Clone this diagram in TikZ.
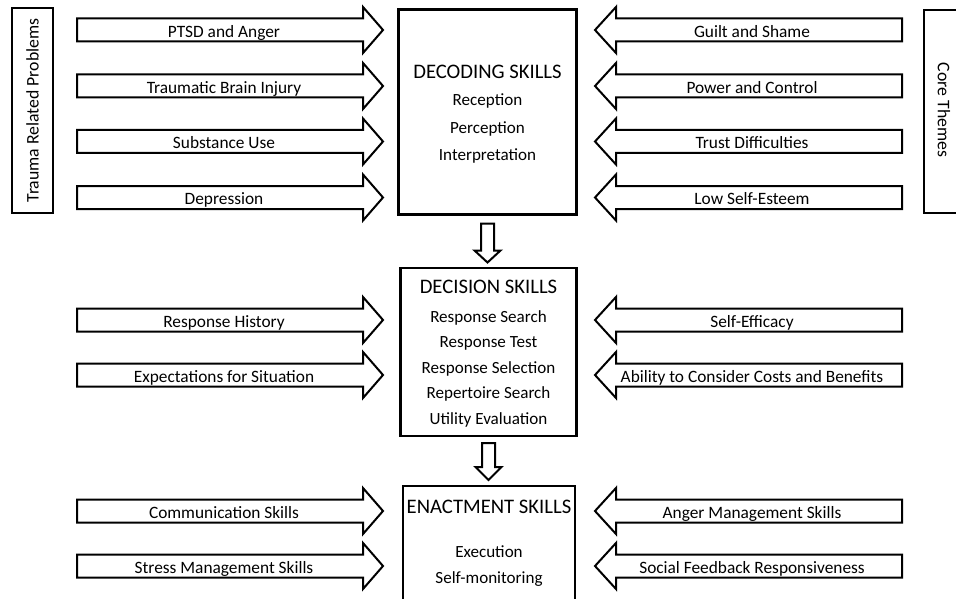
\documentclass[tikz,border=0pt]{standalone}
\usepackage{fontspec}
\setmainfont{Carlito}
\usetikzlibrary{positioning}

\tikzset{
  blockarrow/.style={draw=black,line width=1.5pt,fill=white,line join=miter},
  arrowlabel/.style={font=\fontsize{13}{15}\selectfont,inner sep=0pt,
    anchor=base,yshift=-5.6pt},
  skillbox/.style={draw=black,line width=2.2pt,inner sep=0pt,outer sep=0pt},
  sidebox/.style={draw=black,line width=2.2pt,inner sep=0pt,outer sep=0pt},
  skilltitle/.style={font=\fontsize{15.5}{18}\selectfont,inner sep=0pt,
    text height=10.5pt,text depth=0pt},
  skillitem/.style={font=\fontsize{12.8}{15}\selectfont,inner sep=0pt,
    text height=11pt,text depth=2.5pt},
  sidetext/.style={font=\fontsize{13.3}{16}\selectfont,inner sep=0pt}
}

\begin{document}
\begin{tikzpicture}[x=0.75pt,y=-0.75pt]
    \useasboundingbox (0,0) rectangle (956,599);

    % Cajas laterales
    \node[sidebox,minimum width=30.75pt,minimum height=153.75pt] (trauma) at (32.5,110.5) {};
    \node[sidetext,rotate=90] (traumatext) at (trauma.center) {Trauma Related Problems};
    \node[sidebox,minimum width=60pt,minimum height=152.25pt] (core) at (964,111.5) {};
    \node[sidetext,rotate=-90] (coretext) at (944,110) {Core Themes};

    % Cajas de habilidades
    \node[skillbox,minimum width=133.5pt,minimum height=153.75pt] (decoding) at (487.5,112) {};
    \node[skilltitle] (decodingtitle) at (487.5,72) {DECODING SKILLS};
    \node[skillitem] (reception) at (487.5,100) {Reception};
    \node[skillitem] (perception) at (487.5,128) {Perception};
    \node[skillitem] (interpretation) at (487.5,155) {Interpretation};

    \node[skillbox,minimum width=132pt,minimum height=126pt] (decision) at (488.5,352) {};
    \node[skilltitle] (decisiontitle) at (488.5,286) {DECISION SKILLS};
    \foreach \i/\y/\txt in {1/317/Response Search,2/342/Response Test,
        3/368/Response Selection,4/393/Repertoire Search,5/419/Utility Evaluation} {
        \node[skillitem] (decisionitem\i) at (488.5,\y) {\txt};
    }

    \node[skillbox,minimum width=129pt,minimum height=88.5pt] (enactment) at (489,545) {};
    \node[skilltitle] (enactmenttitle) at (489,506) {ENACTMENT SKILLS};
    \node[skillitem] (execution) at (489,552) {Execution};
    \node[skillitem] (selfmonitoring) at (489,578) {Self-monitoring};

    % Flechas hacia abajo entre cajas
    \draw[blockarrow,shift={(decoding.south)}]
        (-6.5,9) -- (6.5,9) -- (6.5,36) -- (13,36) -- (0,48)
        -- (-13,36) -- (-6.5,36) -- cycle;
    \draw[blockarrow,shift={(decision.south)}]
        (-6.5,7) -- (6.5,7) -- (6.5,31) -- (13,31) -- (0,44)
        -- (-13,31) -- (-6.5,31) -- cycle;

    % Flechas de la izquierda
    \foreach \i/\y/\txt in {1/30/PTSD and Anger,2/86/Traumatic Brain Injury,
        3/141.5/Substance Use,4/197.5/Depression,5/320/Response History,
        6/375/Expectations for Situation,7/511/Communication Skills,
        8/566/Stress Management Skills} {
        \draw[blockarrow] (77,\y-11.5) -- (363,\y-11.5) -- (363,\y-23) -- (383,\y)
            -- (363,\y+23) -- (363,\y+11.5) -- (77,\y+11.5) -- cycle;
        \node[arrowlabel] (left\i) at (224,\y) {\txt};
    }

    % Flechas de la derecha
    \foreach \i/\y/\txt in {1/30/Guilt and Shame,2/86/Power and Control,
        3/141.5/Trust Difficulties,4/197.5/Low Self-Esteem,5/320/Self-Efficacy,
        6/375/Ability to Consider Costs and Benefits,7/511/Anger Management Skills,
        8/566/Social Feedback Responsiveness} {
        \draw[blockarrow] (902,\y-11.5) -- (616,\y-11.5) -- (616,\y-23) -- (595,\y)
            -- (616,\y+23) -- (616,\y+11.5) -- (902,\y+11.5) -- cycle;
        \node[arrowlabel] (right\i) at (752,\y) {\txt};
    }
\end{tikzpicture}
\end{document}
